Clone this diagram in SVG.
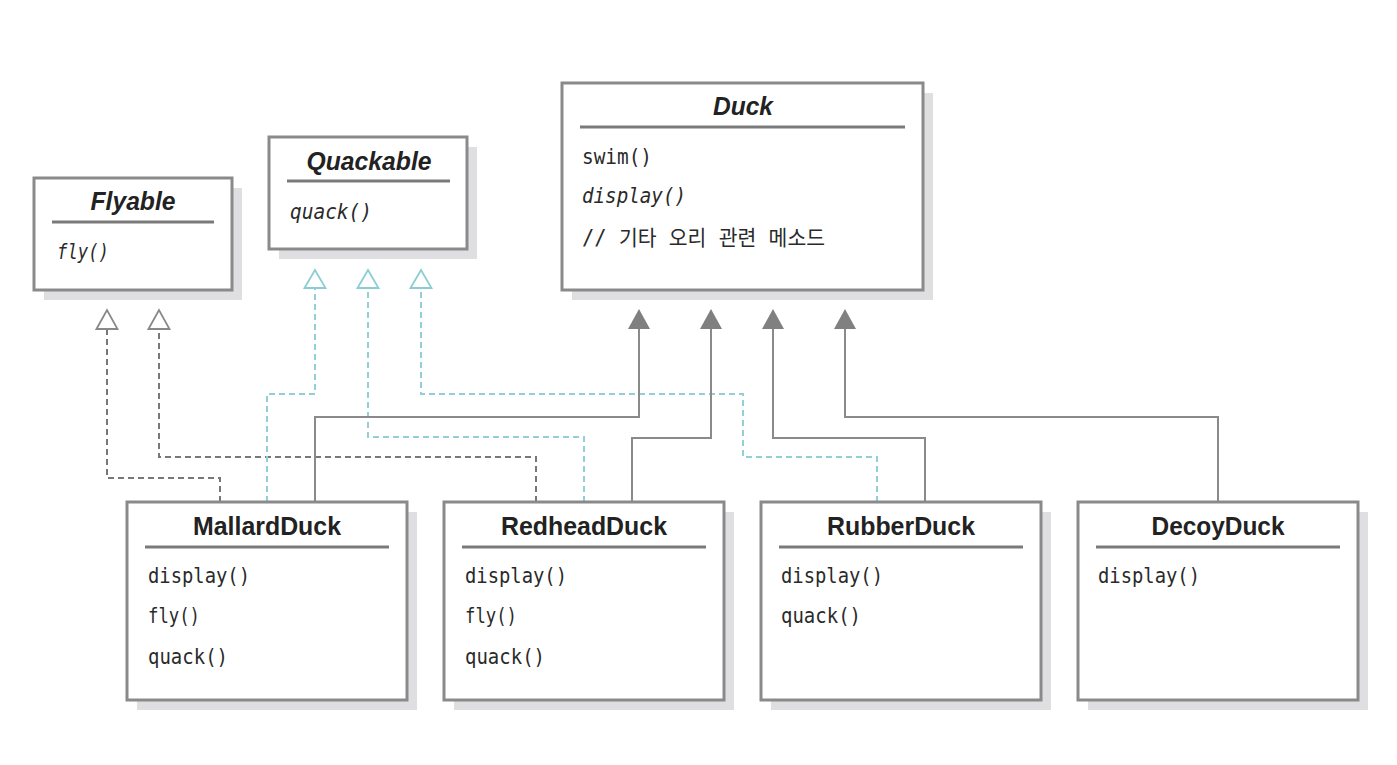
<svg xmlns="http://www.w3.org/2000/svg" width="1397" height="765" viewBox="0 0 1397 765">
<style>
.shadow{fill:#dfdfe1;stroke:none}
.box{fill:#ffffff;stroke:#8a8a8a;stroke-width:3}
.sep{stroke:#7a7a7a;stroke-width:3}
.title{font-family:"Liberation Sans",Arial,sans-serif;font-weight:bold;font-size:26px;fill:#222;text-anchor:middle}
.ititle{font-style:italic}
.m{font-family:"DejaVu Sans Mono","Noto Sans CJK KR",monospace;font-size:21px;fill:#2a2a2a}
.im{font-style:italic}
.inh{fill:none;stroke:#8a8a8a;stroke-width:2}
.dg{fill:none;stroke:#777777;stroke-width:2;stroke-dasharray:6 4}
.dc{fill:none;stroke:#93cfd6;stroke-width:2;stroke-dasharray:6 4}
</style>
<defs>
<marker id="triFill" viewBox="0 -11 21 22" refX="0" refY="0" markerWidth="21" markerHeight="22" markerUnits="userSpaceOnUse" orient="auto">
<polygon points="0,-11 20,0 0,11" fill="#808080"/>
</marker>
<marker id="triGray" viewBox="-2 -13 23 26" refX="0" refY="0" markerWidth="23" markerHeight="26" markerUnits="userSpaceOnUse" orient="auto">
<polygon points="0,-10.5 19,0 0,10.5" fill="#ffffff" stroke="#888888" stroke-width="1.8"/>
</marker>
<marker id="triCyan" viewBox="-2 -13 23 26" refX="0" refY="0" markerWidth="23" markerHeight="26" markerUnits="userSpaceOnUse" orient="auto">
<polygon points="0,-10.5 18,0 0,10.5" fill="#ffffff" stroke="#8ccdd4" stroke-width="1.8"/>
</marker>
</defs>
<rect width="1397" height="765" fill="#ffffff"/>

<g id="connectors">
<path class="dg" d="M220,502 V478 H107 V329" marker-end="url(#triGray)"/>
<path class="dg" d="M536,502 V457 H159 V329" marker-end="url(#triGray)"/>
<path class="dc" d="M267,502 V394 H315 V288" marker-end="url(#triCyan)"/>
<path class="dc" d="M584,502 V437 H368 V288" marker-end="url(#triCyan)"/>
<path class="dc" d="M877,502 V457 H743 V394 H421 V288" marker-end="url(#triCyan)"/>
<path class="inh" d="M315,502 V417 H639 V329" marker-end="url(#triFill)"/>
<path class="inh" d="M632,502 V438 H711 V329" marker-end="url(#triFill)"/>
<path class="inh" d="M925,502 V438 H773 V329" marker-end="url(#triFill)"/>
<path class="inh" d="M1218,502 V417 H845 V329" marker-end="url(#triFill)"/>
</g>

<g id="Flyable">
<rect class="shadow" x="44" y="188" width="198" height="112"/>
<rect class="box" x="34" y="178" width="198" height="112"/>
<text class="title ititle" x="133" y="210" textLength="85" lengthAdjust="spacingAndGlyphs">Flyable</text>
<line class="sep" x1="52" y1="222" x2="214" y2="222"/>
<text class="m im" x="57" y="259" textLength="52" lengthAdjust="spacingAndGlyphs">fly()</text>
</g>

<g id="Quackable">
<rect class="shadow" x="279" y="147" width="198" height="112"/>
<rect class="box" x="269" y="137" width="198" height="112"/>
<text class="title ititle" x="369" y="170" textLength="125" lengthAdjust="spacingAndGlyphs">Quackable</text>
<line class="sep" x1="287" y1="181" x2="450" y2="181"/>
<text class="m im" x="290" y="219" textLength="82" lengthAdjust="spacingAndGlyphs">quack()</text>
</g>

<g id="Duck">
<rect class="shadow" x="572" y="93" width="361" height="207"/>
<rect class="box" x="562" y="83" width="361" height="207"/>
<text class="title ititle" x="743" y="115" textLength="60" lengthAdjust="spacingAndGlyphs">Duck</text>
<line class="sep" x1="580" y1="127" x2="905" y2="127"/>
<text class="m" x="582" y="164" textLength="70" lengthAdjust="spacingAndGlyphs">swim()</text>
<text class="m im" x="582" y="203" textLength="104" lengthAdjust="spacingAndGlyphs">display()</text>
<text class="m" x="582" y="245" textLength="243" lengthAdjust="spacingAndGlyphs">// 기타 오리 관련 메소드</text>
</g>

<g id="MallardDuck">
<rect class="shadow" x="137" y="512" width="280" height="198"/>
<rect class="box" x="127" y="502" width="280" height="198"/>
<text class="title" x="267" y="535" textLength="148" lengthAdjust="spacingAndGlyphs">MallardDuck</text>
<line class="sep" x1="145" y1="547" x2="389" y2="547"/>
<text class="m" x="148" y="583" textLength="102" lengthAdjust="spacingAndGlyphs">display()</text>
<text class="m" x="148" y="623" textLength="52" lengthAdjust="spacingAndGlyphs">fly()</text>
<text class="m" x="148" y="664" textLength="80" lengthAdjust="spacingAndGlyphs">quack()</text>
</g>

<g id="RedheadDuck">
<rect class="shadow" x="454" y="512" width="280" height="198"/>
<rect class="box" x="444" y="502" width="280" height="198"/>
<text class="title" x="584" y="535" textLength="166" lengthAdjust="spacingAndGlyphs">RedheadDuck</text>
<line class="sep" x1="462" y1="547" x2="706" y2="547"/>
<text class="m" x="465" y="583" textLength="102" lengthAdjust="spacingAndGlyphs">display()</text>
<text class="m" x="465" y="623" textLength="52" lengthAdjust="spacingAndGlyphs">fly()</text>
<text class="m" x="465" y="664" textLength="80" lengthAdjust="spacingAndGlyphs">quack()</text>
</g>

<g id="RubberDuck">
<rect class="shadow" x="771" y="512" width="280" height="198"/>
<rect class="box" x="761" y="502" width="280" height="198"/>
<text class="title" x="901" y="535" textLength="148" lengthAdjust="spacingAndGlyphs">RubberDuck</text>
<line class="sep" x1="779" y1="547" x2="1023" y2="547"/>
<text class="m" x="781" y="583" textLength="102" lengthAdjust="spacingAndGlyphs">display()</text>
<text class="m" x="781" y="623" textLength="80" lengthAdjust="spacingAndGlyphs">quack()</text>
</g>

<g id="DecoyDuck">
<rect class="shadow" x="1088" y="512" width="280" height="198"/>
<rect class="box" x="1078" y="502" width="280" height="198"/>
<text class="title" x="1218" y="535" textLength="133" lengthAdjust="spacingAndGlyphs">DecoyDuck</text>
<line class="sep" x1="1096" y1="547" x2="1340" y2="547"/>
<text class="m" x="1098" y="583" textLength="102" lengthAdjust="spacingAndGlyphs">display()</text>
</g>
</svg>
